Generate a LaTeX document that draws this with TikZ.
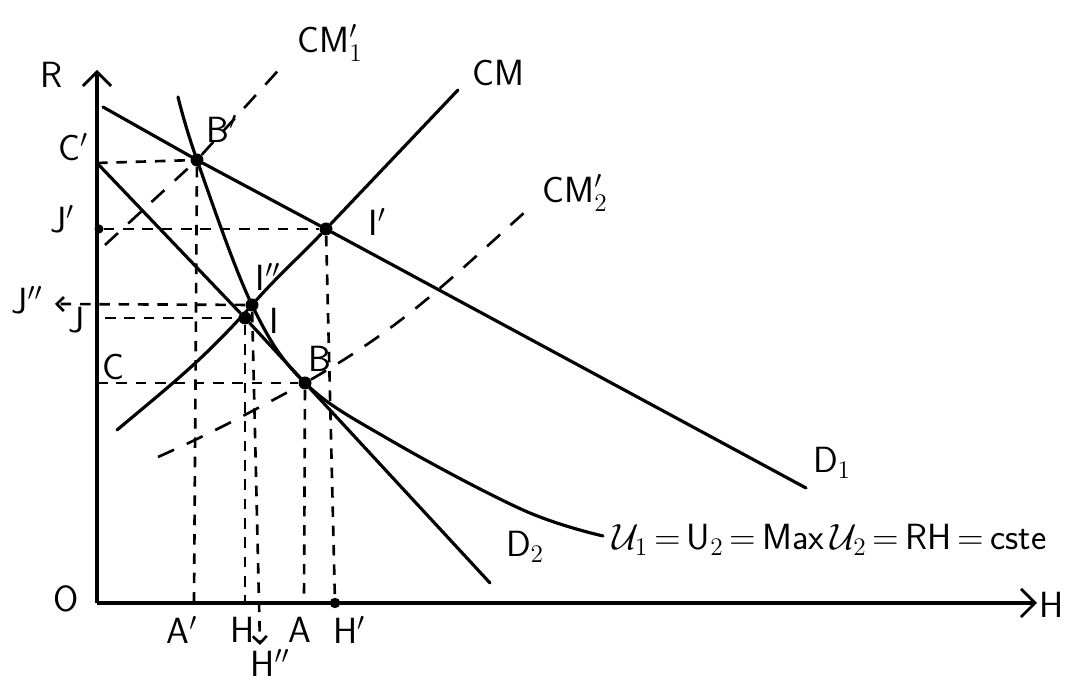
\documentclass[tikz,border=0pt]{standalone}
\usepackage{fontspec}
\usepackage{amsmath, amssymb}
\usetikzlibrary{arrows.meta}
\tikzstyle{vx}=[shape=circle, minimum size=2.6mm, inner sep=0, fill=black]
\tikzstyle{trait}=[line width=1.8pt, line cap=round]
\tikzstyle{proj}=[line width=1.5pt, dash pattern=on 6pt off 5pt]
\tikzstyle{cmdash}=[line width=1.5pt, dash pattern=on 10pt off 8pt]
\tikzstyle{lbl}=[font=\huge\sffamily, inner sep=1pt]
\tikzstyle{axe}=[line width=1.8pt, -{Straight Barb[length=8pt,width=16pt,line width=1.6pt]}]

\begin{document}
\begin{tikzpicture}[x=0.02cm, y=0.02cm]
\useasboundingbox (0,0) rectangle (1073,685);
% axes
\coordinate (O) at (97,82);
\coordinate (Rtop) at (97,615);
\coordinate (Hend) at (1037,82);
\draw[axe] (O)--(Rtop);
\draw[axe] (O)--(Hend);
% points
\node at (197,525)[vx](Bp){};
\node at (326,456)[vx](Ip){};
\node at (252,380)[vx](Is){};
\node at (245,367)[vx](I){};
\node at (305,302)[vx](B){};
\node at (99,456)[vx, scale=.7](Jp){};
\node at (335,82)[vx, scale=.8](Hp){};
% ends on the axes
\coordinate (Cp) at (97,522);
\coordinate (C) at (97,302);
\coordinate (J) at (105,367);
\coordinate (Js) at (55,381);
\coordinate (Ap) at (194,82);
\coordinate (H) at (245,82);
\coordinate (Hs) at (260,40);
\coordinate (A) at (304,82);
% free ends of the lines
\coordinate (d1a) at (103,578);
\coordinate (d1b) at (806,197);
\coordinate (d2b) at (490,102);
\coordinate (cma) at (117,255);
\coordinate (cmb) at (458,595);
\coordinate (cm1a) at (105,440);
\coordinate (cm1b) at (285,622);
\coordinate (cm2a) at (158,228);
\coordinate (cm2b) at (525,473);
\coordinate (ic0) at (178,588);
\coordinate (ic1) at (390,245);
\coordinate (ic2) at (523,175);
\coordinate (ic3) at (603,149);
% droites
\draw[trait] (d1a)--(Bp)--(Ip)--(d1b);
\draw[trait] (Cp)--(I)--(B)--(d2b);
\draw[trait] (cma) to[out=40,in=228] (Is) to[out=48,in=226] (Ip)--(cmb);
\draw[trait] plot[smooth, tension=.6] coordinates {(ic0) (Bp) (Is) (B) (ic1) (ic2) (ic3)};
\draw[cmdash] (cm1a)--(Bp)--(cm1b);
\draw[cmdash] (cm2a) to[out=24,in=208] (B) to[out=30,in=222] (cm2b);
% projections
\draw[proj] (Cp)--(Bp);
\draw[proj] (Jp)--(Ip);
\draw[proj, -{Straight Barb[length=4pt,width=8pt]}] (Is)--(Js);
\draw[proj] (J)--(I);
\draw[proj] (C)--(B);
\draw[proj] (Bp)--(Ap);
\draw[proj] (I)--(H);
\draw[proj, -{Straight Barb[length=4pt,width=8pt]}] (Is)--(Hs);
\draw[proj] (B)--(A);
\draw[proj] (Ip)--(Hp);
% labels
\node[lbl] (lR) at (52,610) {R};
\node[lbl] (lO) at (66,86) {O};
\node[lbl] (lH) at (1052,80) {H};
\node[lbl] (lCp) at (73,538) {C$'$};
\node[lbl] (lJp) at (62,466) {J$'$};
\node[lbl] (lJs) at (27,385) {J$''$};
\node[lbl] (lJ) at (77,365) {J};
\node[lbl] (lC) at (113,318) {C};
\node[lbl] (lBp) at (222,556) {B$'$};
\node[lbl] (lIp) at (377,463) {I$'$};
\node[lbl] (lIs) at (268,408) {I$''$};
\node[lbl] (lI) at (274,364) {I};
\node[lbl] (lB) at (320,326) {B};
\node[lbl] (lAp) at (182,55) {A$'$};
\node[lbl] (lHl) at (243,55) {H};
\node[lbl] (lA) at (300,55) {A};
\node[lbl] (lHp) at (349,55) {H$'$};
\node[lbl] (lHs) at (270,22) {H$''$};
\node[lbl] (lCM1) at (330,642) {CM$'_1$};
\node[lbl] (lCM) at (498,612) {CM};
\node[lbl] (lCM2) at (575,492) {CM$'_2$};
\node[lbl] (lD1) at (832,222) {D$_1$};
\node[lbl] (lD2) at (525,138) {D$_2$};
\node[lbl, anchor=west] (lU) at (610,145)
  {$\mathcal{U}_1$\,=\,U$_2$\,=\,Max\,$\mathcal{U}_2$\,=\,RH\,=\,cste};
\end{tikzpicture}
\end{document}
